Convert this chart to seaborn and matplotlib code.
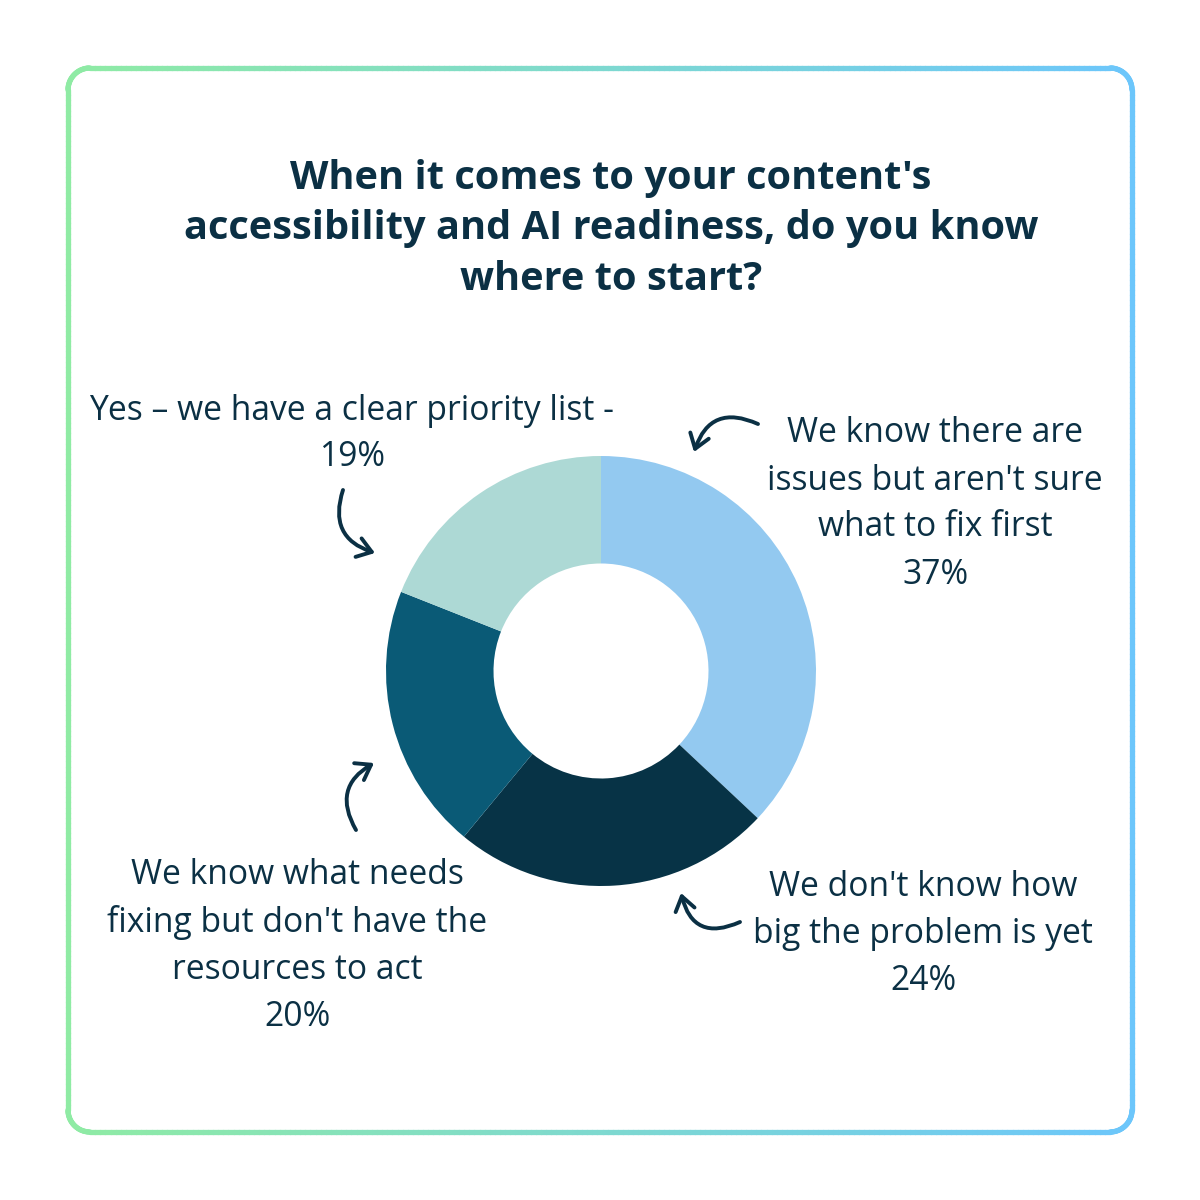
import numpy as np
import matplotlib
matplotlib.use("Agg")
import matplotlib.pyplot as plt
import seaborn as sns
from matplotlib.collections import LineCollection
from matplotlib.colors import to_rgb

sns.set_theme(style="white")
plt.rcParams['font.family'] = ['Open Sans', 'DejaVu Sans']

# ---- data ----
categories = [
    "We know there are\nissues but aren't sure\nwhat to fix first",
    "We don't know how\nbig the problem is yet",
    "We know what needs\nfixing but don't have the\nresources to act",
    "Yes – we have a clear priority list -",
]
values = [37, 24, 20, 19]
pct_labels = ["37%", "24%", "20%", "19%"]
slice_colors = ["#93C9F0", "#073346", "#0A5A76", "#ADD9D5"]
title = "When it comes to your content's\naccessibility and AI readiness, do you know\nwhere to start?"

TEXT = "#0B3044"
W = H = 1200
fig = plt.figure(figsize=(12, 12), dpi=100)
fig.patch.set_facecolor("white")

# overlay axes in pixel coordinates
bg = fig.add_axes([0, 0, 1, 1])
bg.set_xlim(0, W)
bg.set_ylim(H, 0)
bg.axis("off")

# gradient rounded border
x0, y0, x1, y1, r = 68, 68, 1132, 1132, 22
def arc(cx, cy, a0, a1, n=30):
    t = np.linspace(np.radians(a0), np.radians(a1), n)
    return np.column_stack([cx + r*np.cos(t), cy + r*np.sin(t)])
seg = [
    np.column_stack([np.linspace(x0+r, x1-r, 200), np.full(200, y0)]),
    arc(x1-r, y0+r, -90, 0),
    np.column_stack([np.full(200, x1), np.linspace(y0+r, y1-r, 200)]),
    arc(x1-r, y1-r, 0, 90),
    np.column_stack([np.linspace(x1-r, x0+r, 200), np.full(200, y1)]),
    arc(x0+r, y1-r, 90, 180),
    np.column_stack([np.full(200, x0), np.linspace(y1-r, y0+r, 200)]),
    arc(x0+r, y0+r, 180, 270),
]
P = np.vstack(seg)
segs = np.stack([P[:-1], P[1:]], axis=1)
c0 = np.array(to_rgb("#8FEBA4")); c1 = np.array(to_rgb("#6CC6FB"))
t = ((segs[:, 0, 0] + segs[:, 1, 0]) / 2 - x0) / (x1 - x0)
cols = c0[None, :] * (1 - t[:, None]) + c1[None, :] * t[:, None]
bg.add_collection(LineCollection(segs, colors=cols, linewidths=3.8, capstyle="round"))

# title
bg.text(611, 229, title, ha="center", va="center", fontsize=28.6,
        fontweight="bold", color=TEXT, linespacing=1.4)

# donut
cx, cy, R = 601, 671, 215
pax = fig.add_axes([(cx - R)/W, (H - cy - R)/H, 2*R/W, 2*R/H])
pax.pie(values, colors=slice_colors, startangle=90, counterclock=False,
        radius=1.0, wedgeprops=dict(width=0.5, edgecolor="none"))
pax.set_xlim(-1, 1); pax.set_ylim(-1, 1)
pax.set_aspect("equal")
pax.axis("off")

# labels
lab_kw = dict(ha="center", va="center", fontsize=24.2, color=TEXT, linespacing=1.5)
bg.text(935, 504, categories[0] + "\n" + pct_labels[0], **lab_kw)
bg.text(923, 934, categories[1] + "\n" + pct_labels[1], **lab_kw)
bg.text(297, 946, categories[2] + "\n" + pct_labels[2], **lab_kw)
bg.text(352, 434, categories[3] + "\n" + pct_labels[3], **lab_kw)

# arrows
arr_kw = dict(arrowstyle="->,head_length=0.5,head_width=0.35", color=TEXT,
              lw=2.8, mutation_scale=20, shrinkA=0, shrinkB=0)
for (a, b, rad) in [((758, 424), (694, 452), 0.55),
                    ((343, 490), (375, 553), 0.5),
                    ((356, 830), (374, 763), -0.5),
                    ((740, 922), (681, 893), -0.6)]:
    bg.annotate("", xy=b, xytext=a,
                arrowprops=dict(connectionstyle=f"arc3,rad={rad}", **arr_kw))

fig.savefig("out.png", dpi=100, facecolor="white")
